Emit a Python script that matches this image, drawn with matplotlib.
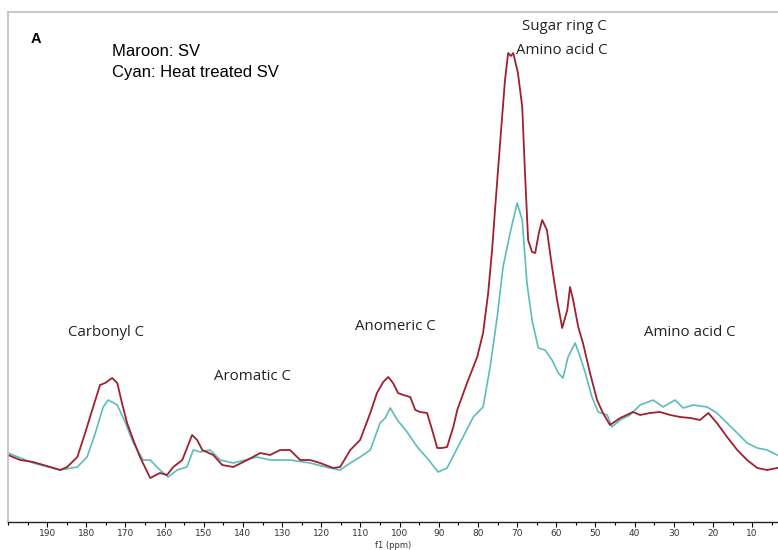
import matplotlib
matplotlib.use("Agg")
import matplotlib.pyplot as plt
from matplotlib.ticker import MultipleLocator

# ---- data (chemical shift in ppm, intensity in arbitrary units) ----
sv_ppm = [200.0, 196.9, 193.6, 189.2, 186.7, 184.9, 182.3, 180.3, 178.5, 176.5,
          175.2, 173.4, 172.1, 170.9, 169.6, 168.0, 166.3, 163.7, 161.2, 159.4,
          157.8, 155.5, 153.0, 151.7, 150.4, 147.6, 145.3, 142.5, 138.9, 135.6,
          133.1, 130.5, 128.0, 125.4, 122.9, 120.3, 117.0, 115.2, 112.6, 110.1,
          107.5, 105.8, 104.2, 102.9, 101.7, 100.4, 99.1, 97.3, 96.0, 94.8,
          93.0, 91.7, 90.4, 89.2, 87.9, 86.3, 85.3, 82.8, 80.2, 78.7,
          77.4, 76.4, 75.6, 74.3, 73.1, 72.3, 71.6, 71.0, 69.8, 68.7,
          68.0, 67.2, 66.2, 65.4, 64.4, 63.6, 62.4, 61.1, 59.8, 58.5,
          57.2, 56.5, 55.7, 54.4, 53.2, 51.4, 49.6, 48.1, 46.3, 43.7,
          40.4, 38.6, 36.1, 33.5, 30.9, 28.4, 25.8, 23.3, 21.2, 19.0,
          16.4, 13.8, 11.3, 8.7, 6.2, 3.6]
sv_int = [45, 40, 38, 33, 30, 33, 43, 67, 90, 115,
          117, 122, 117, 97, 77, 60, 43, 22, 27, 25,
          33, 40, 65, 60, 50, 45, 35, 33, 40, 47,
          45, 50, 50, 40, 40, 37, 32, 33, 50, 60,
          87, 107, 118, 123, 117, 107, 105, 103, 90, 88,
          87, 70, 52, 52, 53, 73, 90, 117, 143, 167,
          207, 250, 293, 360, 420, 447, 444, 447, 427, 393,
          327, 260, 248, 247, 268, 280, 270, 233, 200, 172,
          190, 213, 200, 173, 157, 127, 100, 87, 75, 82,
          88, 85, 87, 88, 85, 83, 82, 80, 87, 77,
          63, 50, 40, 32, 30, 32]

hsv_ppm = [200.0, 193.6, 186.7, 182.3, 179.8, 177.7, 175.7, 174.4, 172.1, 170.1,
           168.0, 165.5, 163.7, 161.2, 159.1, 156.8, 154.3, 152.7, 150.9, 148.4,
           145.8, 142.5, 136.4, 133.1, 128.0, 122.9, 117.8, 115.2, 112.6, 110.1,
           107.5, 105.0, 103.7, 102.4, 100.6, 98.1, 95.5, 93.0, 90.2, 87.9,
           84.6, 81.2, 78.7, 76.9, 75.1, 73.6, 71.8, 70.0, 68.7, 67.5,
           66.2, 64.6, 62.9, 61.1, 59.5, 58.3, 57.0, 55.2, 53.9, 52.6,
           50.9, 49.3, 47.0, 45.8, 43.7, 41.2, 38.6, 35.3, 32.7, 29.7,
           27.6, 25.1, 21.5, 19.0, 16.4, 13.8, 11.3, 8.7, 6.2, 3.6]
hsv_int = [47, 37, 30, 33, 43, 67, 93, 100, 95, 78,
           57, 40, 40, 30, 23, 30, 33, 50, 48, 50,
           40, 37, 43, 40, 40, 37, 32, 30, 37, 43,
           50, 77, 82, 92, 80, 68, 53, 42, 28, 32,
           57, 83, 93, 133, 183, 233, 267, 297, 280, 217,
           180, 152, 150, 140, 127, 122, 143, 157, 143, 127,
           103, 88, 85, 73, 80, 85, 95, 100, 93, 100,
           92, 95, 93, 87, 77, 67, 57, 52, 50, 45]

tick_vals = list(range(190, 0, -10))

labels = [("Carbonyl C", 106, 332), ("Aromatic C", 252, 376),
          ("Anomeric C", 395, 326), ("Sugar ring C", 564, 27),
          ("Amino acid C", 562, 50), ("Amino acid C", 690, 333)]

W, H = 778, 550
fig = plt.figure(figsize=(W / 100, H / 100), dpi=100)
ax = fig.add_axes([8 / W, 1 - 522 / H, (W - 8) / W, (522 - 12) / H])

ax.plot(hsv_ppm, hsv_int, color="#5cbcbc", lw=1.2)
ax.plot(sv_ppm, sv_int, color="#a0202c", lw=1.3)

ax.set_xlim(200.0, 3.4)
ax.set_ylim(-22, 488)
ax.set_xticks(tick_vals)
ax.xaxis.set_minor_locator(MultipleLocator(5))
ax.tick_params(axis="x", which="major", length=3.5, width=0.8, labelsize=6.5,
               labelcolor="#333333", pad=1.5)
ax.tick_params(axis="x", which="minor", length=2.5, width=0.8)
ax.set_yticks([])
for s in ("left", "top"):
    ax.spines[s].set_color("#c0c0c0")
    ax.spines[s].set_linewidth(1.2)
ax.spines["right"].set_visible(False)
ax.spines["bottom"].set_color("#222222")
ax.spines["bottom"].set_linewidth(1.0)
for lab in ax.get_xticklabels():
    lab.set_family("DejaVu Sans")

fig.text(393 / W, 1 - 545 / H, "f1 (ppm)", fontsize=6, color="#333333",
         ha="center", va="center")

fig.text(31 / W, 1 - 39 / H, "A", fontsize=10.5, fontweight="bold",
         family="Liberation Sans", ha="left", va="center")
fig.text(112 / W, 1 - 52 / H, "Maroon: SV", fontsize=12,
         family="Liberation Sans", ha="left", va="center")
fig.text(112 / W, 1 - 73 / H, "Cyan: Heat treated SV", fontsize=12,
         family="Liberation Sans", ha="left", va="center")

for txt, x, y in labels:
    fig.text(x / W, 1 - y / H, txt, fontsize=10.8, family="Open Sans",
             color="#222222", ha="center", va="center")

fig.savefig("out.png", dpi=100)
